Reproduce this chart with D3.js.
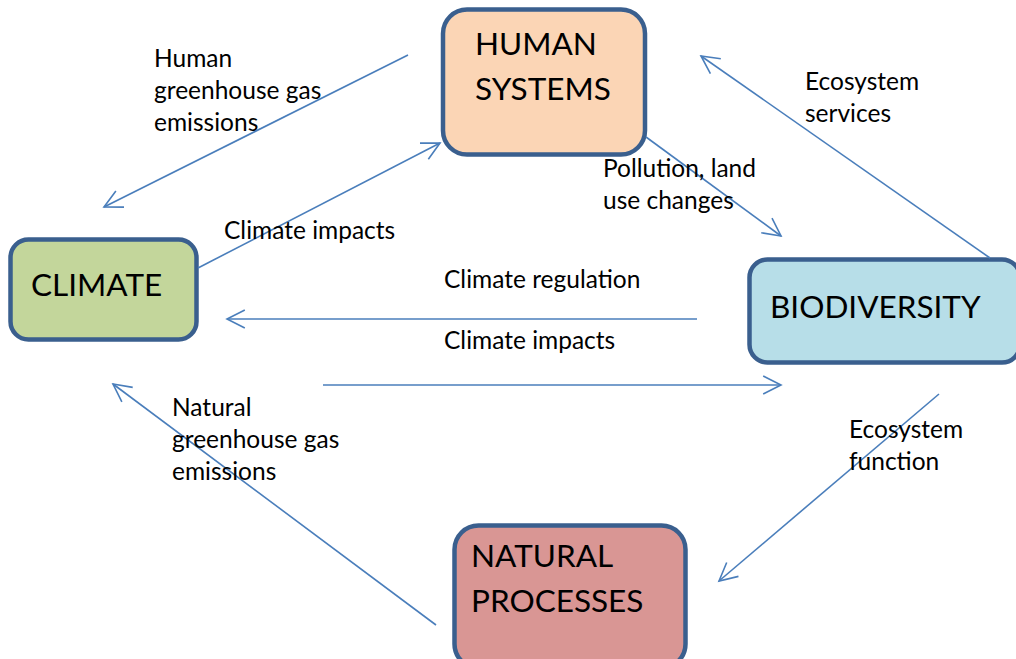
<!DOCTYPE html>
<html>
<head>
<meta charset="utf-8">
<script src="https://cdn.jsdelivr.net/npm/d3@7"></script>
<style>
  body { margin: 0; background: #ffffff; }
  svg { display: block; font-family: Lato, "Liberation Sans", sans-serif; }
</style>
</head>
<body>
<div id="chart"></div>
<script>
// Boxes: name, lines of text, fill
const boxNames = ["human", "climate", "biodiversity", "natural"];
const boxLines = [["HUMAN", "SYSTEMS"], ["CLIMATE"], ["BIODIVERSITY"], ["NATURAL", "PROCESSES"]];
const boxFills = ["#fbd5b5", "#c3d69b", "#b7dee8", "#d99694"];
// box extents [x0, y0, x1, y1]
const boxExtents = [[443, 9.5, 645, 154.5], [10.5, 239.5, 196.5, 339.5], [749.5, 259.5, 1020, 362.5], [454.5, 525.5, 685.5, 668]];
// text anchor [x, baseline of first line]
const boxTextPos = [[475, 55], [31, 296], [770, 318], [471, 567]];

// Arrows [x1, y1, x2, y2] (head at x2,y2)
const arrows = [
    [408, 55, 104, 207],
    [198, 268, 440, 143],
    [646, 137, 781, 236],
    [990, 258, 701, 56],
    [697, 319, 227, 319],
    [323, 385, 781, 385],
    [939, 394, 719, 581],
    [436, 625, 113, 384]
];

// Arrow labels
const labelLines = [
    ["Human", "greenhouse gas", "emissions"],
    ["Climate impacts"],
    ["Pollution, land", "use changes"],
    ["Ecosystem", "services"],
    ["Climate regulation"],
    ["Climate impacts"],
    ["Natural", "greenhouse gas", "emissions"],
    ["Ecosystem", "function"]
];
const labelPos = [[154, 67], [224, 239], [603, 177], [805, 90], [444, 288], [444, 349], [172, 416], [849, 438]];

function diagram() {

    const width = 1016;
    const height = 659;
    const lineColor = "#4a7ebb";
    const boxStroke = "#3a5f8e";

    const svg = d3.select("#chart")
        .append("svg")
        .attr("width", width)
        .attr("height", height);

    const boxes = boxNames.map(function(d, i) {
        return {name: d, lines: boxLines[i], fill: boxFills[i], ext: boxExtents[i], pos: boxTextPos[i]};
    });

    // Boxes
    svg.selectAll(".box")
        .data(boxes)
        .enter()
        .append("rect")
            .attr("class", "box")
            .attr("x", function(d) { return d.ext[0]; })
            .attr("y", function(d) { return d.ext[1]; })
            .attr("width", function(d) { return d.ext[2] - d.ext[0]; })
            .attr("height", function(d) { return d.ext[3] - d.ext[1]; })
            .attr("rx", function(d) { return d.name === "climate" || d.name === "biodiversity" ? 18 : 24; })
            .attr("fill", function(d) { return d.fill; })
            .attr("stroke", boxStroke)
            .attr("stroke-width", 4.5);

    const boxText = svg.selectAll(".boxText")
        .data(boxes)
        .enter()
        .append("text")
            .attr("class", "boxText")
            .attr("font-size", 31.5)
            .attr("fill", "#000");

    boxText.selectAll("tspan")
        .data(function(d) { return d.lines.map(function(l) { return {t: l, x: d.pos[0], y: d.pos[1]}; }); })
        .enter()
        .append("tspan")
            .attr("x", function(d) { return d.x; })
            .attr("y", function(d, i) { return d.y + i * 45; })
            .text(function(d) { return d.t; });

    // Arrows
    const headLen = 20;
    const headAng = 27 * Math.PI / 180;
    const g = svg.append("g")
        .attr("stroke", lineColor)
        .attr("stroke-width", 1.6)
        .attr("fill", "none");

    g.selectAll(".shaft")
        .data(arrows)
        .enter()
        .append("line")
            .attr("x1", function(d) { return d[0]; })
            .attr("y1", function(d) { return d[1]; })
            .attr("x2", function(d) { return d[2]; })
            .attr("y2", function(d) { return d[3]; });

    g.selectAll(".head")
        .data(arrows)
        .enter()
        .append("path")
            .attr("d", function(d) {
                const a = Math.atan2(d[1] - d[3], d[0] - d[2]);
                const p1 = [d[2] + headLen * Math.cos(a + headAng), d[3] + headLen * Math.sin(a + headAng)];
                const p2 = [d[2] + headLen * Math.cos(a - headAng), d[3] + headLen * Math.sin(a - headAng)];
                return d3.line()([p1, [d[2], d[3]], p2]);
            });

    // Labels
    const labels = labelLines.map(function(d, i) { return {lines: d, pos: labelPos[i]}; });

    const labelText = svg.selectAll(".label")
        .data(labels)
        .enter()
        .append("text")
            .attr("class", "label")
            .attr("font-size", 24.5)
            .attr("fill", "#000");

    labelText.selectAll("tspan")
        .data(function(d) { return d.lines.map(function(l) { return {t: l, x: d.pos[0], y: d.pos[1]}; }); })
        .enter()
        .append("tspan")
            .attr("x", function(d) { return d.x; })
            .attr("y", function(d, i) { return d.y + i * 32; })
            .text(function(d) { return d.t; });
};

diagram();
</script>
</body>
</html>
